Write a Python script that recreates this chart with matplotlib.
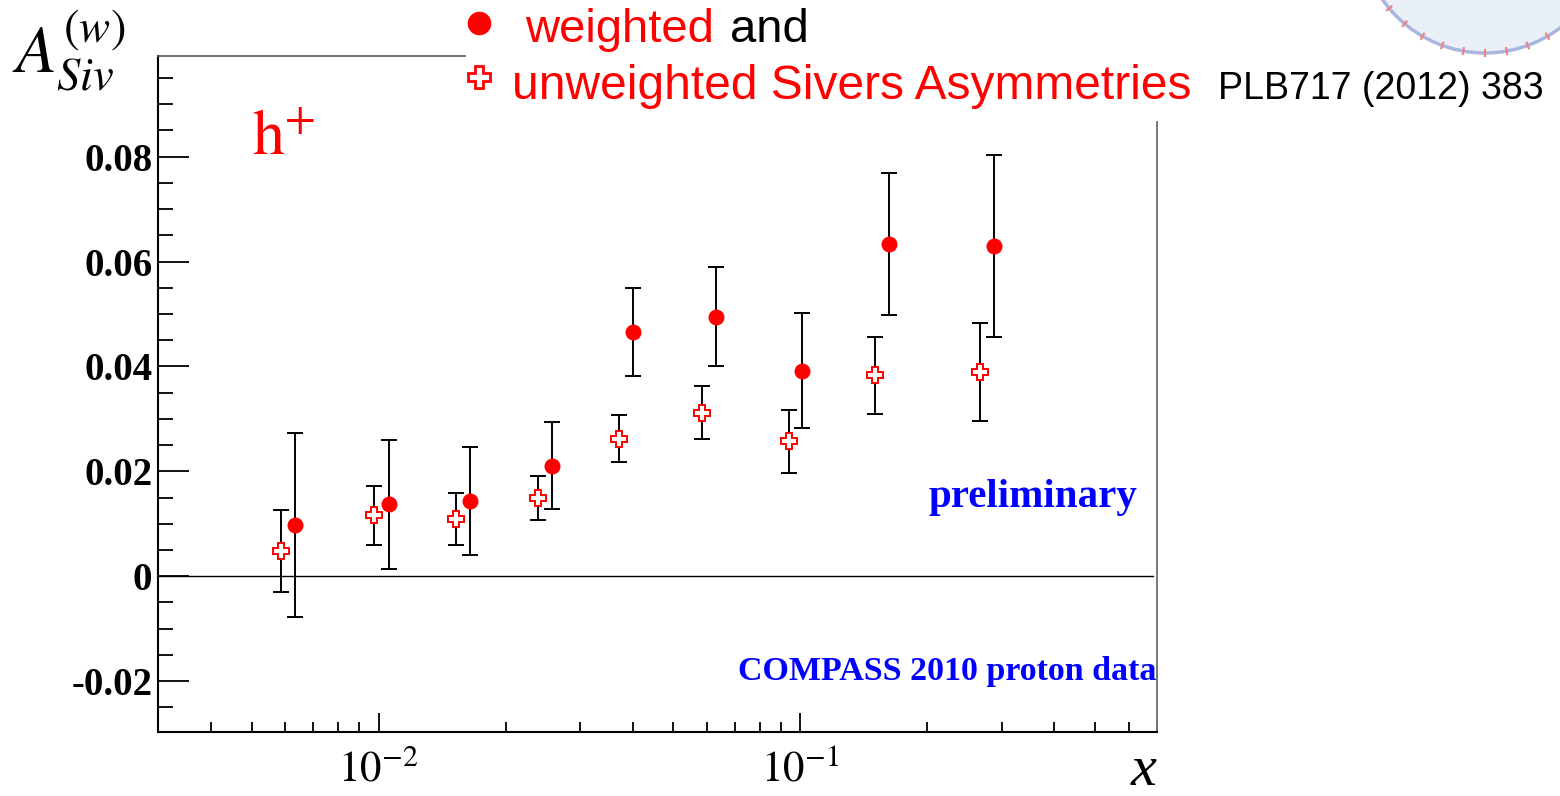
import matplotlib
matplotlib.use("Agg")
import matplotlib.pyplot as plt
from matplotlib.ticker import LogLocator, MultipleLocator, NullFormatter, FixedLocator, FixedFormatter
from matplotlib.patches import Circle
import numpy as np

plt.rcParams['mathtext.fontset'] = 'stix'

# weighted Sivers asymmetry (filled circles)
x_w = [0.00632, 0.01056, 0.01646, 0.02575, 0.0400, 0.0629, 0.1011, 0.1625, 0.2882]
a_w = [0.0098, 0.0137, 0.0143, 0.0211, 0.0465, 0.0495, 0.0392, 0.0634, 0.0630]
err_w = [0.0175, 0.0123, 0.0103, 0.0083, 0.0084, 0.0094, 0.0110, 0.0135, 0.0174]

# unweighted Sivers asymmetry (open crosses)
x_u = [0.00586, 0.00977, 0.01525, 0.02385, 0.03704, 0.05827, 0.0940, 0.1506, 0.2669]
a_u = [0.0048, 0.0116, 0.0109, 0.0150, 0.0262, 0.0312, 0.0257, 0.0383, 0.0389]
err_u = [0.0079, 0.0056, 0.0050, 0.0042, 0.0045, 0.0050, 0.0060, 0.0073, 0.0093]

y_major = [-0.02, 0, 0.02, 0.04, 0.06, 0.08]
y_labels = ["-0.02", "0", "0.02", "0.04", "0.06", "0.08"]
x_major = [0.01, 0.1]
x_labels = [r"$10^{-2}$", r"$10^{-1}$"]

fig = plt.figure(figsize=(15.6, 7.96), dpi=100)
ax = fig.add_axes([158 / 1560, 64 / 796, 999 / 1560, 676 / 796])

ax.set_xscale("log")
ax.set_xlim(0.003, 0.7)
ax.set_ylim(-0.0297, 0.0992)

ax.axhline(0, xmin=0, xmax=0.996, color="black", lw=1.0, zorder=1)

ax.errorbar(x_u, a_u, yerr=err_u, fmt="none", ecolor="black", elinewidth=1.4,
            capsize=5.5, capthick=1.4, zorder=2)
ax.plot(x_u, a_u, linestyle="none", marker="P", markersize=11,
        markerfacecolor="white", markeredgecolor="red", markeredgewidth=1.4, zorder=3)
ax.errorbar(x_w, a_w, yerr=err_w, fmt="none", ecolor="black", elinewidth=1.4,
            capsize=5.5, capthick=1.4, zorder=2)
ax.plot(x_w, a_w, linestyle="none", marker="o", markersize=11.5,
        color="red", markeredgewidth=0, zorder=3)

# ticks
ax.xaxis.set_major_locator(FixedLocator(x_major))
ax.xaxis.set_major_formatter(FixedFormatter(x_labels))
ax.xaxis.set_minor_locator(LogLocator(base=10, subs=np.arange(2, 10)))
ax.xaxis.set_minor_formatter(NullFormatter())
ax.yaxis.set_major_locator(FixedLocator(y_major))
ax.yaxis.set_major_formatter(FixedFormatter(y_labels))
ax.yaxis.set_minor_locator(MultipleLocator(0.005))

ax.tick_params(axis="x", which="major", direction="in", length=14, width=1.3,
               labelsize=31, pad=12, top=False)
ax.tick_params(axis="x", which="minor", direction="in", length=7, width=1.3, top=False)
ax.tick_params(axis="y", which="major", direction="in", length=22, width=1.3,
               labelsize=28, pad=4, right=False)
ax.tick_params(axis="y", which="minor", direction="in", length=11, width=1.3, right=False)
for lab in ax.get_yticklabels():
    lab.set_fontfamily("Liberation Serif")
    lab.set_fontweight("bold")

# frame (top / right partly hidden by the legend)
for s in ["left", "bottom"]:
    ax.spines[s].set_linewidth(1.5)
    ax.spines[s].set_color("black")
ax.spines["top"].set_linewidth(1.2)
ax.spines["top"].set_color("#555555")
ax.spines["top"].set_bounds(0.003, 0.016)
ax.spines["right"].set_linewidth(1.4)
ax.spines["right"].set_color("#777777")
ax.spines["right"].set_bounds(-0.0297, 0.0867)

# texts
serif = "Liberation Serif"
fig.text(12 / 1560, 1 - 72 / 796, r"$A_{Siv}^{(w)}$", fontsize=48, color="black",
         ha="left", va="baseline")
ax.text(0.0050, 0.0803, r"$\mathrm{h}^{+}$", fontsize=46, color="red",
        ha="left", va="baseline")
ax.text(1.0, -0.078, "x", transform=ax.transAxes, fontfamily=serif, style="italic",
        fontsize=42, ha="right", va="baseline")
ax.text(0.98, 0.0132, "preliminary", transform=ax.get_yaxis_transform(), fontfamily=serif,
        fontweight="bold", fontsize=29.5, color="blue", ha="right", va="baseline")
ax.text(1.0, -0.0197, "COMPASS 2010 proton data", transform=ax.get_yaxis_transform(),
        fontfamily=serif, fontweight="bold", fontsize=24.5, color="blue",
        ha="right", va="baseline")

# legend drawn by hand
sans = "Liberation Sans"
fig.lines.append(plt.Line2D([479 / 1560], [1 - 23 / 796], transform=fig.transFigure,
                            marker="o", markersize=17, color="red", markeredgewidth=0))
fig.lines.append(plt.Line2D([479 / 1560], [1 - 77 / 796], transform=fig.transFigure,
                            marker="P", markersize=16, markerfacecolor="white",
                            markeredgecolor="red", markeredgewidth=2))
t1 = fig.text(525 / 1560, 1 - 42 / 796, "weighted", fontfamily=sans, fontsize=34,
              color="red", va="baseline")
fig.canvas.draw()
bb = t1.get_window_extent()
fig.text((bb.x1 + 16) / 1560, 1 - 42 / 796, "and", fontfamily=sans, fontsize=34,
         color="black", va="baseline")
fig.text(512 / 1560, 1 - 99 / 796, "unweighted Sivers Asymmetries", fontfamily=sans,
         fontsize=34.5, color="red", va="baseline")
fig.text(1218 / 1560, 1 - 99 / 796, "PLB717 (2012) 383", fontfamily=sans,
         fontsize=27, color="black", va="baseline")

# logo corner
logo = Circle((14.85, 8.68), 1.25, transform=fig.dpi_scale_trans, facecolor="#e9f0f8",
              edgecolor="#a9b6e0", linewidth=2.5, zorder=0)
fig.patches.append(logo)
for ang in np.arange(-150, -20, 10):
    a = np.deg2rad(ang)
    r0, r1 = 1.22, 1.28
    fig.lines.append(plt.Line2D([14.85 + r0 * np.cos(a), 14.85 + r1 * np.cos(a)],
                                [8.68 + r0 * np.sin(a), 8.68 + r1 * np.sin(a)],
                                transform=fig.dpi_scale_trans, color="#f08080", lw=1.5))

fig.savefig("out.png", dpi=100)
